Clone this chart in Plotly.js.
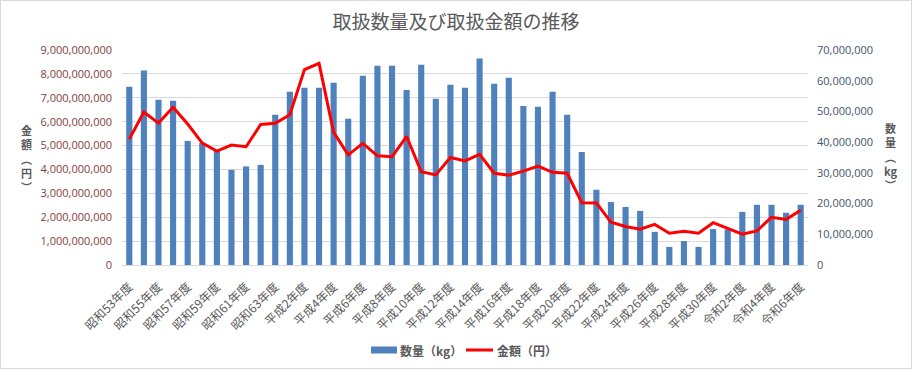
<!DOCTYPE html>
<html><head><meta charset="utf-8">
<script src="https://cdn.plot.ly/plotly-3.0.1.min.js"></script>
<style>
html,body{margin:0;padding:0;background:#fff;}
#chart{width:912px;height:369px;box-sizing:border-box;border:1px solid #d9d9d9;}
</style></head>
<body><div id="chart"></div>
<script>
const categories = [
 "昭和53年度","昭和54年度","昭和55年度","昭和56年度","昭和57年度","昭和58年度","昭和59年度","昭和60年度","昭和61年度","昭和62年度","昭和63年度",
 "平成元年度","平成2年度","平成3年度","平成4年度","平成5年度","平成6年度","平成7年度","平成8年度","平成9年度","平成10年度",
 "平成11年度","平成12年度","平成13年度","平成14年度","平成15年度","平成16年度","平成17年度","平成18年度","平成19年度","平成20年度",
 "平成21年度","平成22年度","平成23年度","平成24年度","平成25年度","平成26年度","平成27年度","平成28年度","平成29年度","平成30年度",
 "令和元年度","令和2年度","令和3年度","令和4年度","令和5年度","令和6年度"];
const quantityKg = [
 58000000,63300000,53800000,53500000,40400000,39700000,37500000,31000000,32100000,32600000,48900000,
 56400000,57700000,57700000,59300000,47600000,61600000,64900000,64900000,57000000,65200000,
 54100000,58700000,57700000,67200000,59000000,61000000,51800000,51500000,56400000,48900000,
 36800000,24500000,20500000,18900000,17600000,10800000,5900000,7800000,5900000,11700000,
 11600000,17300000,19600000,19600000,17000000,19600000];
const amountYen = [
 5270000000,6400000000,5940000000,6600000000,5900000000,5100000000,4770000000,5020000000,4950000000,5880000000,5930000000,
 6290000000,8180000000,8440000000,5550000000,4610000000,5090000000,4570000000,4530000000,5380000000,3910000000,
 3770000000,4500000000,4360000000,4630000000,3840000000,3760000000,3930000000,4140000000,3880000000,3840000000,
 2610000000,2600000000,1790000000,1610000000,1500000000,1700000000,1330000000,1410000000,1330000000,1770000000,
 1520000000,1290000000,1430000000,2000000000,1910000000,2290000000];
const tickLabels = categories.filter((c,i)=>i%2===0);
const leftTitleChars = ["金","額","︵","円","︶"];
const rightTitleChars = ["数","量","︵","kg","︶"];
const legendNames = ["数量（kg）","金額（円）"];

const jp = '"Noto Sans CJK JP", "Noto Sans", sans-serif';
const barColor = '#4F81BD', lineColor = '#FF0000';

// pixel helpers for the plot area (left 122, right 808, top 50, bottom 265)
const PL=122, PR=808, PT=50, PB=265;
const px = x => (x-PL)/(PR-PL);
const py = y => (PB-y)/(PB-PT);

const data = [
 {type:'bar', name:legendNames[0], x:categories, y:quantityKg, yaxis:'y',
  marker:{color:barColor}, hoverinfo:'skip', showlegend:false},
 {type:'scatter', mode:'lines', name:legendNames[1], x:categories, y:amountYen, yaxis:'y2',
  line:{color:lineColor, width:3}, hoverinfo:'skip', showlegend:false}
];

const titleFont = {size:11, color:'#595959', family:jp, weight:'bold'};
const annotations = [
 {text:leftTitleChars.join('<br>'), xref:'paper', yref:'paper', x:px(27), y:py(158),
  xanchor:'center', yanchor:'middle', showarrow:false, font:titleFont, align:'center'},
 {text:rightTitleChars.join('<br>'), xref:'paper', yref:'paper', x:px(891), y:py(156),
  xanchor:'center', yanchor:'middle', showarrow:false, font:titleFont, align:'center'},
 {text:legendNames[0], xref:'paper', yref:'paper', x:px(398), y:py(350), xanchor:'left', yanchor:'middle',
  showarrow:false, font:{size:12, color:'#595959', family:jp, weight:'bold'}},
 {text:legendNames[1], xref:'paper', yref:'paper', x:px(495), y:py(350), xanchor:'left', yanchor:'middle',
  showarrow:false, font:{size:12, color:'#595959', family:jp, weight:'bold'}}
];

const shapes = [
 {type:'rect', xref:'paper', yref:'paper', x0:px(371), x1:px(397), y0:py(353.5), y1:py(346.5), fillcolor:barColor, line:{width:0}},
 {type:'line', xref:'paper', yref:'paper', x0:px(466), x1:px(493), y0:py(350), y1:py(350), line:{color:lineColor, width:3}}
];

const layout = {
 width:910, height:367,
 margin:{l:121, r:103, t:49, b:103},
 paper_bgcolor:'#fff', plot_bgcolor:'#fff',
 font:{family:jp, color:'#595959'},
 title:{text:'取扱数量及び取扱金額の推移', font:{size:19, color:'#595959', family:jp},
   xref:'container', x:0.5, xanchor:'center', yref:'container', y:0.943, yanchor:'middle'},
 bargap:0.58,
 showlegend:false,
 xaxis:{type:'category', tickmode:'array', tickvals:tickLabels, ticktext:tickLabels, tickangle:-45,
   tickfont:{size:12, color:'#595959'}, showgrid:false, showline:true, linecolor:'#d9d9d9', ticks:'',
   ticklabelstandoff:9, automargin:false},
 yaxis:{side:'right', range:[0,70000000], dtick:10000000, tickformat:',d', showgrid:false, zeroline:false,
   tickfont:{size:11, color:'#44546A', family:'"Open Sans", sans-serif'}, ticklabelstandoff:8, automargin:false},
 yaxis2:{overlaying:'y', side:'left', range:[0,9000000000], dtick:1000000000, tickformat:',d',
   showgrid:true, gridcolor:'#d9d9d9', zeroline:false,
   tickfont:{size:11, color:'#843C3C', family:'"Open Sans", sans-serif'}, ticklabelstandoff:9, automargin:false},
 annotations:annotations,
 shapes:shapes
};
Plotly.newPlot('chart', data, layout, {displayModeBar:false, staticPlot:true});
</script></body></html>
